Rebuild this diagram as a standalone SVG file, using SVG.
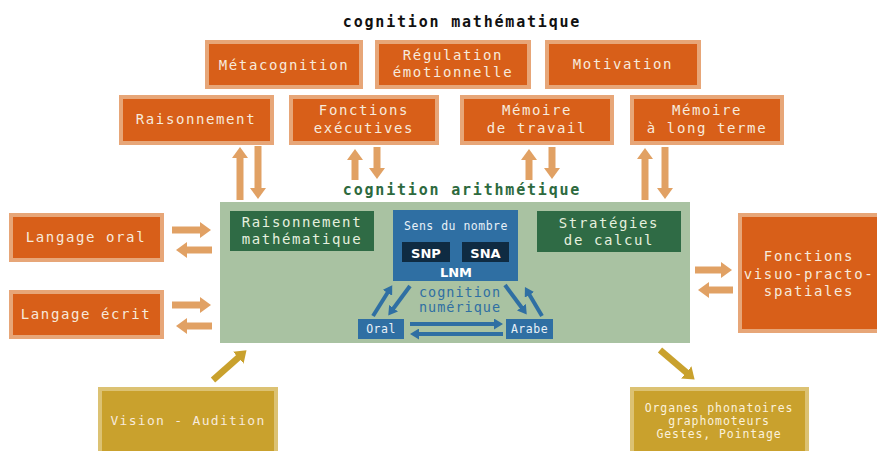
<svg xmlns="http://www.w3.org/2000/svg" width="877" height="451" viewBox="0 0 877 451">
  <style>
    .bg { fill: #ffffff; }
    .orange { fill: #d85f19; stroke: #e7a678; stroke-width: 4; }
    .gold { fill: #c9a12d; stroke: #dcc273; stroke-width: 4; }
    .green { fill: #a9c2a2; }
    .dgreen { fill: #2f6b45; }
    .blue { fill: #2f6fa3; }
    .navy { fill: #0f2b42; }
    text { font-family: "DejaVu Sans Mono", "Liberation Mono", monospace; text-anchor: middle; }
    .lbl { fill: #f7eadc; font-size: 14px; letter-spacing: 1.6px; }
    .glbl { fill: #e6f0df; font-size: 14px; letter-spacing: 1.6px; }
    .small { fill: #fbf1dc; font-size: 11.5px; letter-spacing: 0.9px; }
    .title { fill: #111111; font-size: 15px; font-weight: bold; letter-spacing: 1.8px; }
    .gtitle { fill: #2d6a3e; font-size: 15px; font-weight: bold; letter-spacing: 1.8px; }
    .num { fill: #2f6fa3; font-size: 13.5px; letter-spacing: 1px; }
    .sn { fill: #ffffff; font-family: "DejaVu Sans", "Liberation Sans", sans-serif; font-weight: bold; font-size: 13px; }
    .blbl { fill: #e8f1f8; font-size: 11.5px; letter-spacing: 0.5px; }
    .arr { stroke: #e1a164; stroke-width: 7; fill: none; }
    .garr { stroke: #c9a12d; stroke-width: 6.5; fill: none; }
    .barr { stroke: #2f6fa3; stroke-width: 4; fill: none; }
  </style>
  <defs>
    <marker id="headO" markerUnits="userSpaceOnUse" viewBox="0 0 11 16" markerWidth="11" markerHeight="16" refX="1" refY="8" orient="auto">
      <path d="M0,0 L11,8 L0,16 Z" fill="#e1a164"/>
    </marker>
    <marker id="headG" markerUnits="userSpaceOnUse" viewBox="0 0 11 16" markerWidth="11" markerHeight="16" refX="1" refY="8" orient="auto">
      <path d="M0,0 L11,8 L0,16 Z" fill="#c9a12d"/>
    </marker>
    <marker id="headB" markerUnits="userSpaceOnUse" viewBox="0 0 9 11" markerWidth="9" markerHeight="11" refX="1" refY="5.5" orient="auto">
      <path d="M0,0 L9,5.5 L0,11 Z" fill="#2f6fa3"/>
    </marker>
  </defs>

  <rect class="bg" x="0" y="0" width="877" height="451"/>

  <text class="title" x="462" y="27">cognition mathématique</text>

  <!-- upper row -->
  <g id="metacognition">
    <rect class="orange" x="207" y="42" width="154" height="45"/>
    <text class="lbl" x="284" y="70">Métacognition</text>
  </g>
  <g id="regulation">
    <rect class="orange" x="377" y="42" width="152" height="45"/>
    <text class="lbl" x="453" y="60">Régulation</text>
    <text class="lbl" x="453" y="77">émotionnelle</text>
  </g>
  <g id="motivation">
    <rect class="orange" x="547" y="42" width="152" height="45"/>
    <text class="lbl" x="623" y="69">Motivation</text>
  </g>

  <!-- second row -->
  <g id="raisonnement">
    <rect class="orange" x="121" y="97" width="151" height="46"/>
    <text class="lbl" x="196" y="124">Raisonnement</text>
  </g>
  <g id="fonctions-executives">
    <rect class="orange" x="291" y="97" width="146" height="46"/>
    <text class="lbl" x="364" y="115">Fonctions</text>
    <text class="lbl" x="364" y="133">exécutives</text>
  </g>
  <g id="memoire-travail">
    <rect class="orange" x="462" y="97" width="150" height="46"/>
    <text class="lbl" x="537" y="115">Mémoire</text>
    <text class="lbl" x="537" y="133">de travail</text>
  </g>
  <g id="memoire-long-terme">
    <rect class="orange" x="632" y="97" width="150" height="46"/>
    <text class="lbl" x="707" y="115">Mémoire</text>
    <text class="lbl" x="707" y="133">à long terme</text>
  </g>

  <text class="gtitle" x="462" y="195">cognition arithmétique</text>

  <!-- arithmetic cognition block -->
  <g id="cognition-arithmetique">
    <rect class="green" x="220" y="202" width="470" height="141"/>
  </g>
  <g id="raisonnement-mathematique">
    <rect class="dgreen" x="230" y="211" width="144" height="40"/>
    <text class="glbl" x="302" y="227">Raisonnement</text>
    <text class="glbl" x="302" y="244">mathématique</text>
  </g>
  <g id="strategies-calcul">
    <rect class="dgreen" x="537" y="211" width="144" height="41"/>
    <text class="glbl" x="609" y="228">Stratégies</text>
    <text class="glbl" x="609" y="245">de calcul</text>
  </g>
  <g id="sens-du-nombre">
    <rect class="blue" x="393" y="210" width="125" height="71"/>
    <text class="blbl" x="456" y="230">Sens du nombre</text>
    <rect class="navy" x="402" y="242" width="48" height="20"/>
    <text class="sn" x="426" y="258">SNP</text>
    <rect class="navy" x="462" y="242" width="47" height="20"/>
    <text class="sn" x="485.5" y="258">SNA</text>
    <text class="sn" x="456" y="277">LNM</text>
  </g>
  <g id="cognition-numerique">
    <text class="num" x="460" y="297">cognition</text>
    <text class="num" x="460" y="312">numérique</text>
  </g>
  <g id="oral">
    <rect class="blue" x="358" y="319" width="46" height="20"/>
    <text class="blbl" x="381" y="333">Oral</text>
  </g>
  <g id="arabe">
    <rect class="blue" x="506" y="319" width="47" height="20"/>
    <text class="blbl" x="529.5" y="333">Arabe</text>
  </g>

  <!-- side boxes -->
  <g id="langage-oral">
    <rect class="orange" x="11" y="215" width="151" height="45"/>
    <text class="lbl" x="86" y="242">Langage oral</text>
  </g>
  <g id="langage-ecrit">
    <rect class="orange" x="11" y="292" width="151" height="45"/>
    <text class="lbl" x="86" y="319">Langage écrit</text>
  </g>
  <g id="fonctions-visuo">
    <rect class="orange" x="740" y="215" width="140" height="116"/>
    <text class="lbl" x="809" y="261">Fonctions</text>
    <text class="lbl" x="809" y="279">visuo-practo-</text>
    <text class="lbl" x="809" y="296">spatiales</text>
  </g>

  <!-- bottom boxes -->
  <g id="vision-audition">
    <rect class="gold" x="100" y="389" width="176" height="66"/>
    <text class="lbl" x="188" y="425" style="font-size:13px;letter-spacing:1.3px">Vision - Audition</text>
  </g>
  <g id="organes">
    <rect class="gold" x="632" y="389" width="175" height="66"/>
    <text class="small" x="719" y="412">Organes phonatoires</text>
    <text class="small" x="719" y="425">graphomoteurs</text>
    <text class="small" x="719" y="438">Gestes, Pointage</text>
  </g>

  <!-- connectors -->
  <g id="connectors">
    <line class="arr" x1="240" y1="200" x2="240" y2="157" marker-end="url(#headO)"/>
    <line class="arr" x1="258" y1="146" x2="258" y2="189" marker-end="url(#headO)"/>
    <line class="arr" x1="355" y1="180" x2="355" y2="159" marker-end="url(#headO)"/>
    <line class="arr" x1="377" y1="147" x2="377" y2="169" marker-end="url(#headO)"/>
    <line class="arr" x1="529" y1="180" x2="529" y2="159" marker-end="url(#headO)"/>
    <line class="arr" x1="552" y1="147" x2="552" y2="169" marker-end="url(#headO)"/>
    <line class="arr" x1="645" y1="200" x2="645" y2="158" marker-end="url(#headO)"/>
    <line class="arr" x1="665" y1="147" x2="665" y2="189" marker-end="url(#headO)"/>

    <line class="arr" x1="172" y1="230" x2="201" y2="230" marker-end="url(#headO)"/>
    <line class="arr" x1="212" y1="250" x2="186" y2="250" marker-end="url(#headO)"/>
    <line class="arr" x1="172" y1="305" x2="201" y2="305" marker-end="url(#headO)"/>
    <line class="arr" x1="212" y1="326" x2="186" y2="326" marker-end="url(#headO)"/>
    <line class="arr" x1="695" y1="270" x2="722" y2="270" marker-end="url(#headO)"/>
    <line class="arr" x1="733" y1="290" x2="708" y2="290" marker-end="url(#headO)"/>

    <line class="garr" x1="213" y1="380" x2="239" y2="357" marker-end="url(#headG)"/>
    <line class="garr" x1="660" y1="350" x2="687" y2="373" marker-end="url(#headG)"/>

    <line class="barr" x1="373" y1="316" x2="388" y2="292" marker-end="url(#headB)"/>
    <line class="barr" x1="410" y1="286" x2="393" y2="309" marker-end="url(#headB)"/>
    <line class="barr" x1="505" y1="285" x2="522" y2="308" marker-end="url(#headB)"/>
    <line class="barr" x1="542" y1="316" x2="529" y2="294" marker-end="url(#headB)"/>
    <line class="barr" x1="410" y1="324" x2="495" y2="324" marker-end="url(#headB)"/>
    <line class="barr" x1="503" y1="334" x2="418" y2="334" marker-end="url(#headB)"/>
  </g>
</svg>
